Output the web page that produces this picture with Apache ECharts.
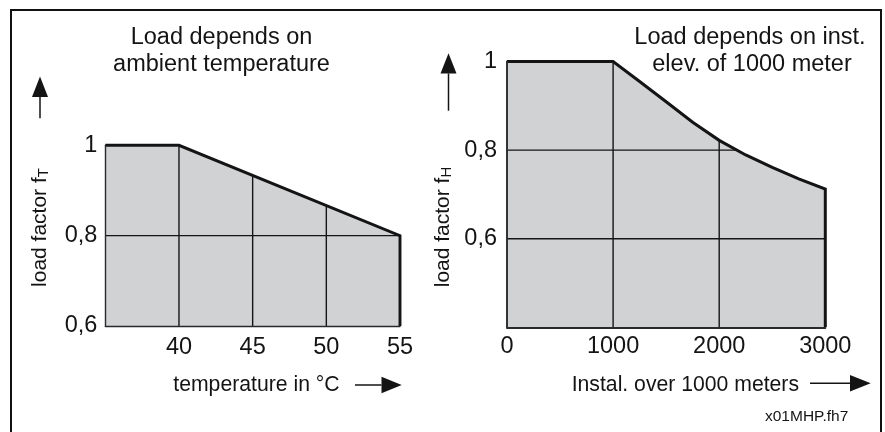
<!DOCTYPE html>
<html>
<head>
<meta charset="utf-8">
<script src="https://cdn.jsdelivr.net/npm/echarts@6/dist/echarts.min.js"></script>
<style>html,body{margin:0;padding:0;background:#fff}#c{width:885px;height:432px}</style>
</head>
<body>
<div id="c"></div>
<script>
// ---- data ----
const tempX = [35, 40, 55];                 // ambient temperature in °C
const tempF = [1.0, 1.0, 0.8];              // load factor fT
const elevX = [0, 1000, 1250, 1500, 1750, 2000, 2250, 2500, 2750, 3000]; // installation altitude in m
const elevF = [1.0, 1.0, 0.955, 0.909, 0.863, 0.822, 0.789, 0.761, 0.735, 0.712]; // load factor fH
const tempGridX = [40, 45, 50];
const tempGridY = [0.8];
const elevGridX = [1000, 2000];
const elevGridY = [0.8, 0.6];
const tempAxis = {min: 35, max: 55, step: 5};
const elevAxis = {min: 0, max: 3000, step: 1000};
const fTAxis = {min: 0.6, max: 1.0, step: 0.2};
const fHAxis = {min: 0.4, max: 1.0, step: 0.2};

const FONT = '"Liberation Sans", Arial, Helvetica, sans-serif';
const INK = '#141414';
const FILL = '#d1d2d4';

function interp(xs, ys, x) {
  for (let i = 0; i < xs.length - 1; i++) {
    if (x >= xs[i] && x <= xs[i + 1]) {
      const t = (x - xs[i]) / (xs[i + 1] - xs[i]);
      return ys[i] + t * (ys[i + 1] - ys[i]);
    }
  }
  return ys[ys.length - 1];
}
function crossX(xs, ys, y) {
  for (let i = 0; i < xs.length - 1; i++) {
    const a = ys[i], b = ys[i + 1];
    if (a !== b && ((a >= y && b <= y) || (a <= y && b >= y))) {
      return xs[i] + (y - a) * (xs[i + 1] - xs[i]) / (b - a);
    }
  }
  return xs[xs.length - 1];
}
function pairs(xs, ys) { return xs.map((x, i) => [x, ys[i]]); }
function fmtComma(v) { const r = Math.round(v * 10) / 10; return r === 1 ? '1' : String(r).replace('.', ','); }
function fmtPlain(v) { return String(Math.round(v)); }

function gridSeries(idx, xs, ys, gx, gy, yMin, xMin) {
  const out = [];
  gx.forEach(x => out.push({
    type: 'line', xAxisIndex: idx, yAxisIndex: idx, symbol: 'none', silent: true, z: 2,
    lineStyle: {color: '#151515', width: 1.4},
    data: [[x, yMin], [x, interp(xs, ys, x)]]
  }));
  gy.forEach(y => out.push({
    type: 'line', xAxisIndex: idx, yAxisIndex: idx, symbol: 'none', silent: true, z: 2,
    lineStyle: {color: '#151515', width: 1.4},
    data: [[xMin, y], [crossX(xs, ys, y), y]]
  }));
  return out;
}

function xAxisDef(idx, ax, showMin, margin, lw) {
  return {
    gridIndex: idx, type: 'value', min: ax.min, max: ax.max, interval: ax.step, z: 5,
    axisLine: {show: true, onZero: false, lineStyle: {color: '#2a2a2a', width: lw}},
    axisTick: {show: false}, splitLine: {show: false},
    axisLabel: {showMinLabel: showMin, fontSize: 23.5, color: INK, fontFamily: FONT, margin: margin, formatter: fmtPlain}
  };
}
function yAxisDef(idx, ax, showMin, margin, lw) {
  return {
    gridIndex: idx, type: 'value', min: ax.min, max: ax.max, interval: ax.step, z: 5,
    axisLine: {show: true, onZero: false, lineStyle: {color: '#2a2a2a', width: lw}},
    axisTick: {show: false}, splitLine: {show: false},
    axisLabel: {showMinLabel: showMin, fontSize: 23.5, color: INK, fontFamily: FONT, margin: margin, formatter: fmtComma}
  };
}

const series = [
  // filled areas
  {type: 'line', xAxisIndex: 0, yAxisIndex: 0, symbol: 'none', silent: true, z: 1,
   lineStyle: {width: 0}, areaStyle: {color: FILL, opacity: 1, origin: 'start'}, data: pairs(tempX, tempF)},
  {type: 'line', xAxisIndex: 1, yAxisIndex: 1, symbol: 'none', silent: true, z: 1,
   lineStyle: {width: 0}, areaStyle: {color: FILL, opacity: 1, origin: 'start'}, data: pairs(elevX, elevF)},
  ...gridSeries(0, tempX, tempF, tempGridX, tempGridY, fTAxis.min, tempAxis.min),
  ...gridSeries(1, elevX, elevF, elevGridX, elevGridY, fHAxis.min, elevAxis.min),
  // outlines
  {type: 'line', xAxisIndex: 0, yAxisIndex: 0, symbol: 'none', silent: true, z: 3, clip: false,
   lineStyle: {color: INK, width: 2.9, join: 'miter'},
   data: pairs(tempX, tempF).concat([[tempX[tempX.length - 1], fTAxis.min]])},
  {type: 'line', xAxisIndex: 1, yAxisIndex: 1, symbol: 'none', silent: true, z: 3, clip: false,
   lineStyle: {color: INK, width: 3, join: 'miter'},
   data: pairs(elevX, elevF).concat([[elevX[elevX.length - 1], fHAxis.min]])}
];

function txt(x, y, text, size, align) {
  return {type: 'text', x: x, y: y, silent: true, z: 50,
    style: {text: text, fontSize: size, fontFamily: FONT, fill: INK, align: align || 'center', verticalAlign: 'middle'}};
}
function vname(x, y, main, sub) {
  return {type: 'text', x: x, y: y, rotation: Math.PI / 2, silent: true, z: 50,
    style: {text: '{a|' + main + '}{b|' + sub + '}', align: 'center', verticalAlign: 'middle',
      rich: {
        a: {fontSize: 21, fontFamily: FONT, fill: INK, color: INK, lineHeight: 22, verticalAlign: 'middle'},
        b: {fontSize: 15, fontFamily: FONT, fill: INK, color: INK, lineHeight: 15, verticalAlign: 'bottom'}
      }}};
}
function arrowUp(x, tip, base, end) {
  return [
    {type: 'line', silent: true, z: 50, shape: {x1: x, y1: base, x2: x, y2: end}, style: {stroke: INK, lineWidth: 1.5}},
    {type: 'polygon', silent: true, z: 50, shape: {points: [[x, tip], [x - 8, base], [x + 8, base]]}, style: {fill: INK}}
  ];
}
function arrowRight(y, start, base, tip) {
  return [
    {type: 'line', silent: true, z: 50, shape: {x1: start, y1: y, x2: base, y2: y}, style: {stroke: INK, lineWidth: 1.5}},
    {type: 'polygon', silent: true, z: 50, shape: {points: [[tip, y], [base, y - 8.3], [base, y + 8.3]]}, style: {fill: INK}}
  ];
}

const graphic = [
  {type: 'rect', silent: true, z: 100, shape: {x: 11, y: 10, width: 870, height: 440},
   style: {fill: 'none', stroke: '#111', lineWidth: 2}},
  txt(221.5, 37.5, 'Load depends on', 23.5),
  txt(221.5, 64.5, 'ambient temperature', 23.5),
  txt(750, 37.5, 'Load depends on inst.', 23.5),
  txt(752, 64.5, 'elev. of 1000 meter', 23.5),
  txt(173.3, 385, 'temperature in °C', 21.2, 'left'),
  txt(571.7, 385, 'Instal. over 1000 meters', 21.2, 'left'),
  txt(765, 417, 'x01MHP.fh7', 15.5, 'left'),
  vname(40.5, 227.5, 'load factor f', 'T'),
  vname(443, 227, 'load factor f', 'H'),
  ...arrowUp(40, 76.5, 97, 118.3),
  ...arrowUp(448.5, 53.3, 73.5, 110.7),
  ...arrowRight(385, 355, 381.5, 401.7),
  ...arrowRight(383.3, 810, 850, 870.7)
];

const chart = echarts.init(document.getElementById('c'), null, {renderer: 'canvas'});
chart.setOption({
  animation: false,
  backgroundColor: '#ffffff',
  grid: [
    {left: 105.3, top: 145.3, width: 294.7, height: 180.7},
    {left: 507, top: 61.5, width: 318.3, height: 265.8}
  ],
  xAxis: [xAxisDef(0, tempAxis, false, 10, 1.4), xAxisDef(1, elevAxis, true, 7, 1.9)],
  yAxis: [yAxisDef(0, fTAxis, true, 8, 1.4), yAxisDef(1, fHAxis, false, 10, 1.9)],
  series: series,
  graphic: graphic
});
</script>
</body>
</html>
